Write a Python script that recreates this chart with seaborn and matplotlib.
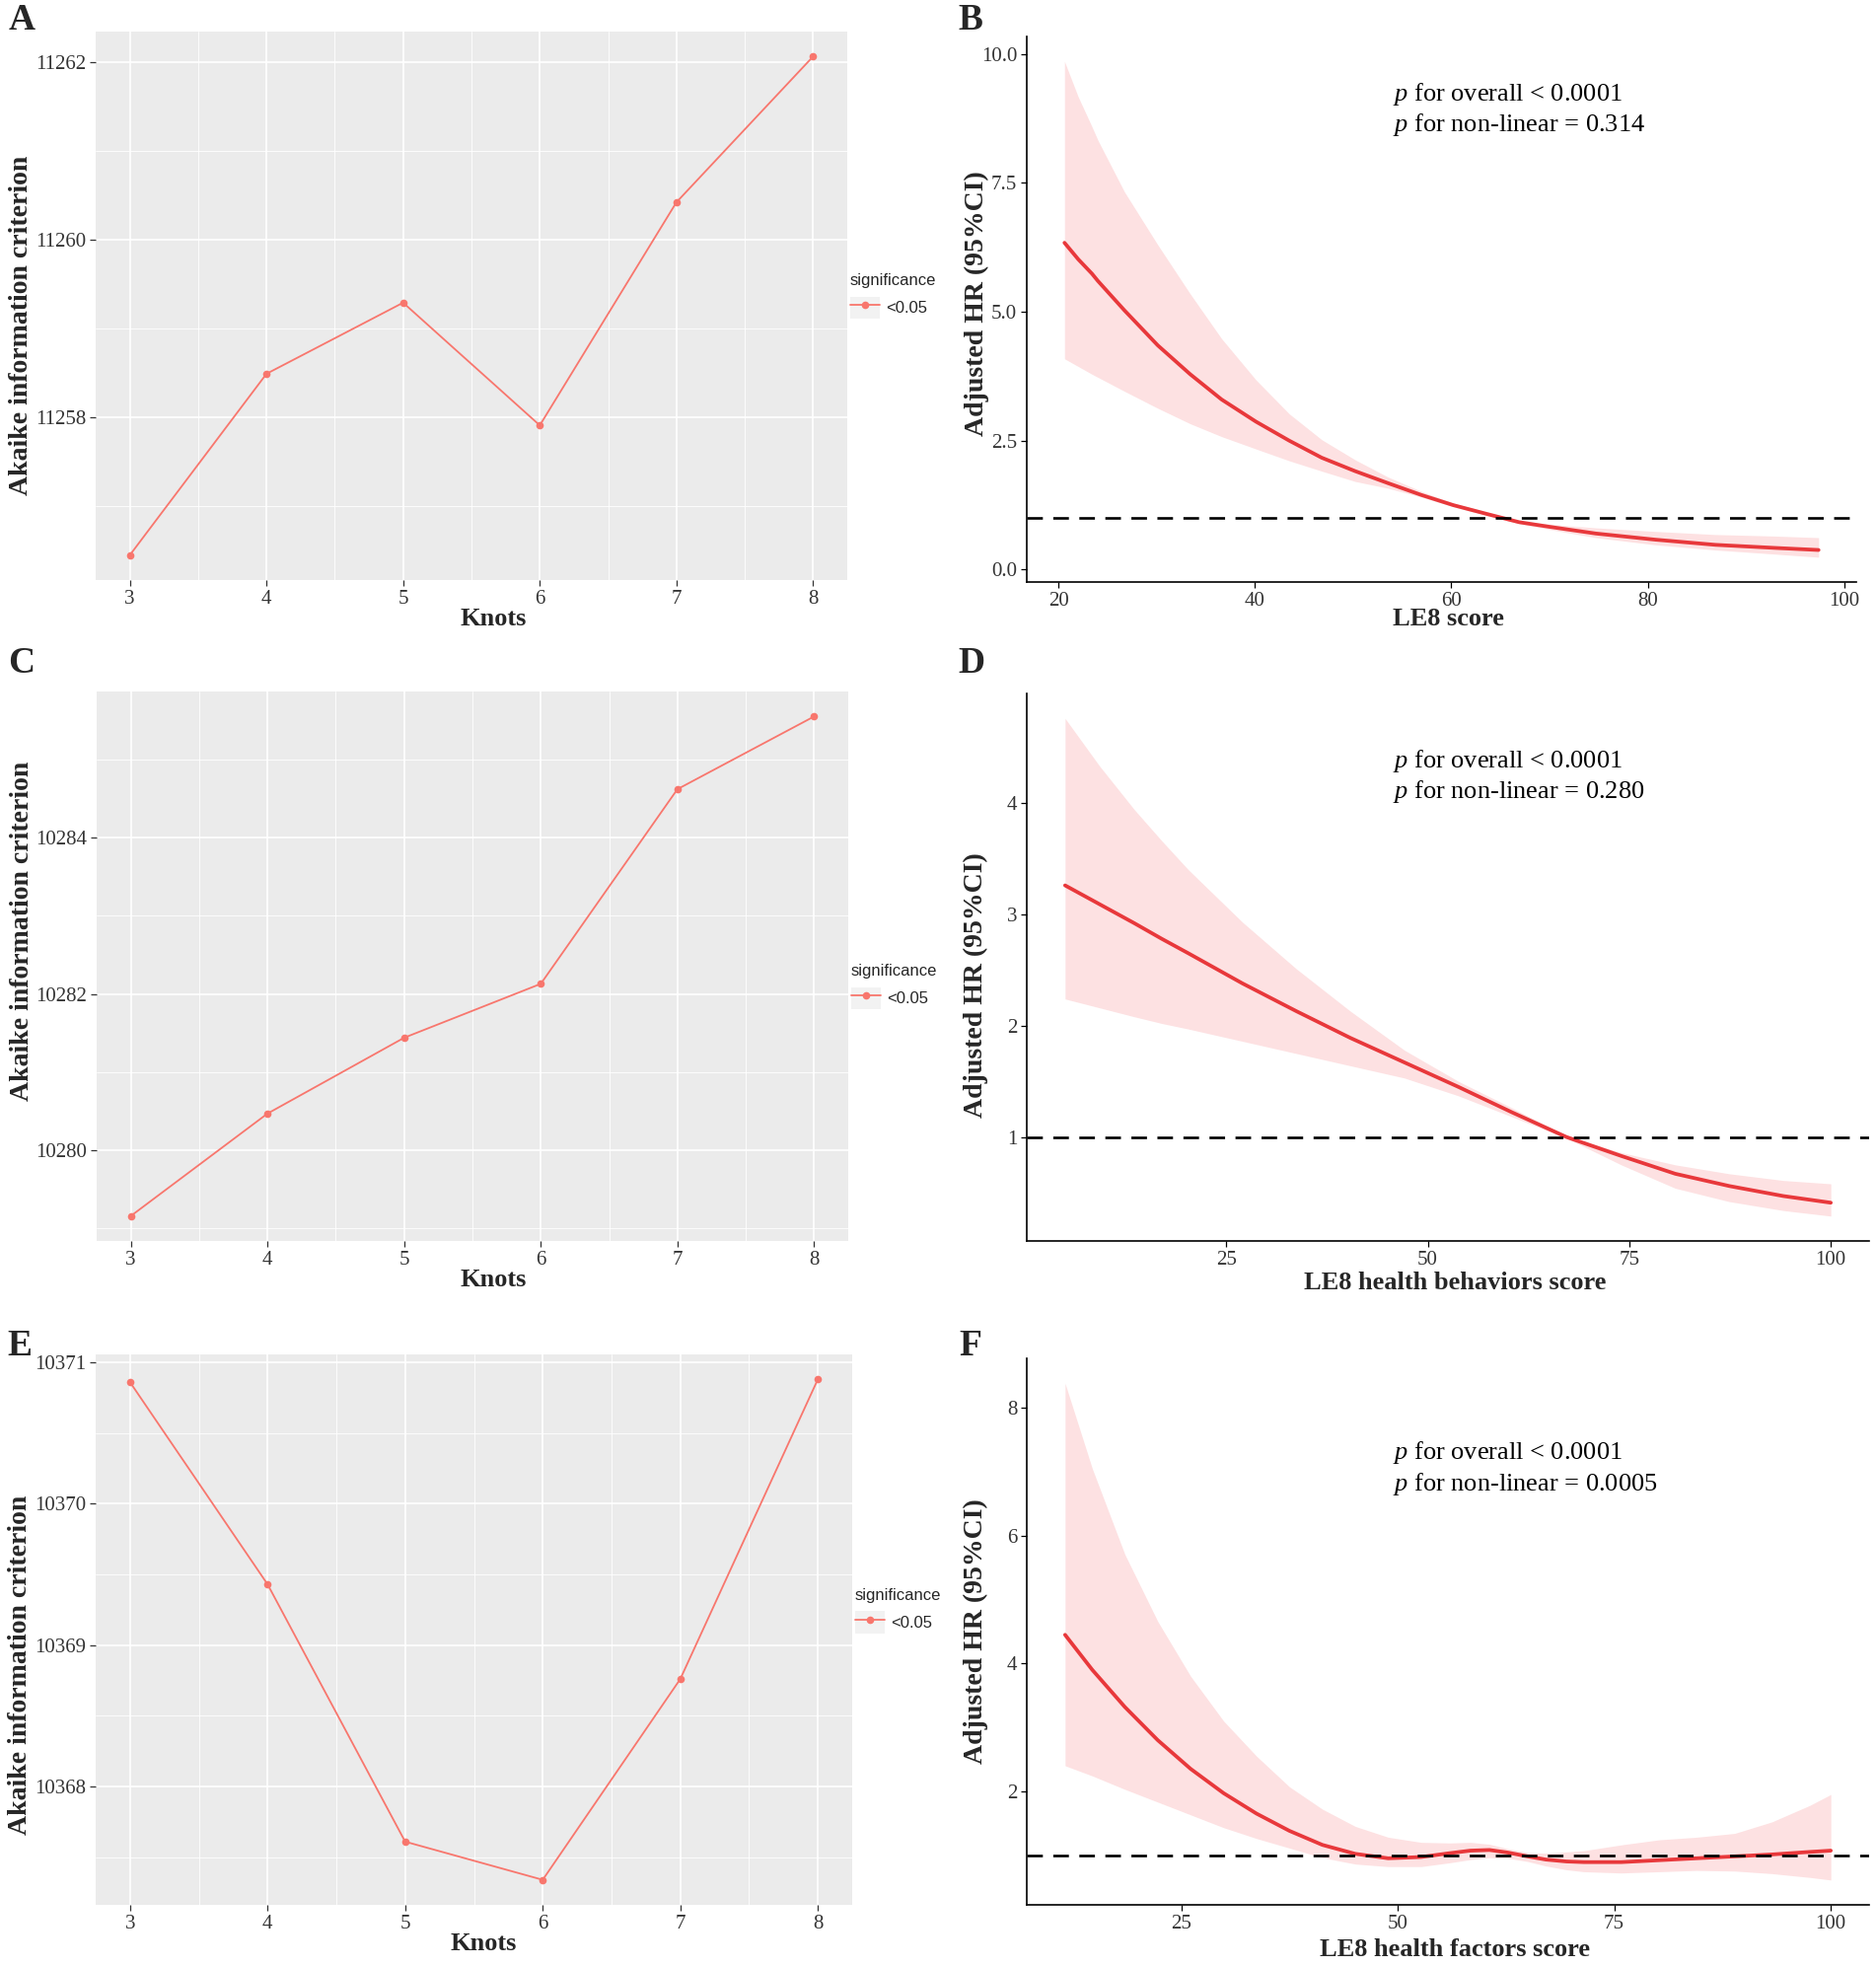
import numpy as np
import pandas as pd
import matplotlib
matplotlib.use("Agg")
import matplotlib.pyplot as plt
import seaborn as sns
from matplotlib.lines import Line2D
from matplotlib.patches import Patch
from matplotlib.legend_handler import HandlerTuple

# ── AIC by number of knots (left column) ─────────────────────────────────
KNOTS = [3, 4, 5, 6, 7, 8]
AIC_A = [11256.45, 11258.49, 11259.29, 11257.91, 11260.42, 11262.06]
AIC_C = [10279.16, 10280.47, 10281.44, 10282.13, 10284.62, 10285.55]
AIC_E = [10370.86, 10369.43, 10367.61, 10367.34, 10368.76, 10370.88]

# ── RCS curves (right column): x, HR, lower CI, upper CI ─────────────────
B_X  = [20.6, 22.0, 23.4, 24.0, 26.7, 30.1, 33.4, 36.6, 40.1, 43.5, 46.8, 50.2,
        53.5, 56.9, 60.2, 63.6, 66.9, 70.0, 74.7, 80.8, 86.9, 93.0, 97.4]
B_HR = [6.34, 6.02, 5.74, 5.60, 5.03, 4.35, 3.79, 3.30, 2.87, 2.50, 2.17, 1.91,
        1.68, 1.45, 1.25, 1.08, 0.92, 0.83, 0.70, 0.58, 0.48, 0.42, 0.38]
B_LO = [4.09, 3.94, 3.79, 3.73, 3.46, 3.13, 2.83, 2.58, 2.34, 2.11, 1.91, 1.71,
        1.58, 1.41, 1.22, 1.05, 0.89, 0.78, 0.62, 0.48, 0.38, 0.30, 0.24]
B_HI = [9.86, 9.17, 8.59, 8.33, 7.33, 6.30, 5.35, 4.48, 3.68, 3.02, 2.52, 2.13,
        1.80, 1.52, 1.29, 1.12, 0.95, 0.88, 0.81, 0.74, 0.68, 0.65, 0.62]

D_X  = [5.0, 9.3, 13.6, 17.0, 20.3, 27.0, 33.7, 40.4, 47.1, 53.8, 60.5, 67.2,
        74.0, 80.7, 87.4, 94.1, 100.0]
D_HR = [3.26, 3.09, 2.92, 2.78, 2.65, 2.38, 2.13, 1.89, 1.67, 1.45, 1.22, 1.00,
        0.83, 0.67, 0.56, 0.47, 0.41]
D_LO = [2.24, 2.16, 2.08, 2.02, 1.97, 1.86, 1.75, 1.64, 1.53, 1.37, 1.18, 0.99,
        0.75, 0.54, 0.42, 0.34, 0.29]
D_HI = [4.76, 4.33, 3.94, 3.66, 3.40, 2.93, 2.51, 2.13, 1.78, 1.50, 1.26, 1.01,
        0.86, 0.75, 0.67, 0.61, 0.58]

F_X  = [11.6, 14.75, 18.5, 22.3, 26.1, 29.9, 33.7, 37.5, 41.3, 45.1, 48.9, 52.7,
        56.0, 58.4, 60.6, 62.7, 65.0, 67.1, 69.5, 71.5, 75.8, 80.2, 84.5, 88.9,
        93.2, 97.6, 100.0]
F_HR = [4.45, 3.90, 3.32, 2.80, 2.35, 1.97, 1.65, 1.38, 1.16, 1.02, 0.95, 0.97,
        1.03, 1.07, 1.08, 1.04, 0.98, 0.93, 0.90, 0.89, 0.89, 0.92, 0.95, 0.98,
        1.01, 1.05, 1.07]
F_LO = [2.40, 2.24, 2.03, 1.83, 1.63, 1.43, 1.26, 1.11, 0.96, 0.86, 0.82, 0.82,
        0.88, 0.93, 0.96, 0.95, 0.90, 0.83, 0.77, 0.74, 0.72, 0.74, 0.76, 0.75,
        0.71, 0.65, 0.61]
F_HI = [8.39, 7.05, 5.71, 4.66, 3.80, 3.10, 2.55, 2.07, 1.72, 1.45, 1.28, 1.20,
        1.19, 1.20, 1.17, 1.10, 1.04, 1.03, 1.05, 1.07, 1.16, 1.24, 1.28, 1.34,
        1.52, 1.78, 1.95]

P_TEXT = {
    "B": ["$p$ for overall < 0.0001", "$p$ for non-linear = 0.314"],
    "D": ["$p$ for overall < 0.0001", "$p$ for non-linear = 0.280"],
    "F": ["$p$ for overall < 0.0001", "$p$ for non-linear = 0.0005"],
}

AIC_COLOR = "#F8766D"
CURVE     = "#E8383B"
BAND      = "#FDE1E2"
TICK_TXT  = "#333333"

sns.set_theme(style="white")
plt.rcParams["font.family"] = ["Liberation Serif", "DejaVu Serif"]
plt.rcParams["mathtext.fontset"] = "custom"
plt.rcParams["mathtext.it"] = "Liberation Serif:italic"
plt.rcParams["mathtext.rm"] = "Liberation Serif"

W, H = 1902, 1993
fig = plt.figure(figsize=(W / 100, H / 100), dpi=100)


def px_axes(x0, y0, x1, y1):
    return fig.add_axes([x0 / W, 1 - y1 / H, (x1 - x0) / W, (y1 - y0) / H])


def expand(vmin, vmax, f=0.05):
    pad = (vmax - vmin) * f
    return vmin - pad, vmax + pad


def aic_panel(box, values, yticks, ylab_y, xlab_x, leg_top):
    ax = px_axes(*box)
    df = pd.DataFrame({"Knots": KNOTS, "AIC": values, "significance": "<0.05"})
    sns.lineplot(data=df, x="Knots", y="AIC", hue="significance",
                 palette=[AIC_COLOR], marker="o", markersize=5.5,
                 markeredgewidth=0, linewidth=1.3, ax=ax, legend=False)
    ax.set_facecolor("#EBEBEB")
    ax.set_xticks(KNOTS)
    ax.set_xticks([k + 0.5 for k in KNOTS[:-1]], minor=True)
    step = yticks[1] - yticks[0]
    ax.set_yticks(yticks)
    ax.set_yticklabels([f"{t:d}" for t in yticks])
    ax.set_yticks([yticks[0] - step / 2] + [t + step / 2 for t in yticks], minor=True)
    ax.set_xlim(2.75, 8.25)
    ax.set_ylim(*expand(min(values), max(values)))
    ax.grid(which="major", color="white", lw=1.2)
    ax.grid(which="minor", color="white", lw=0.6)
    for s in ax.spines.values():
        s.set_visible(False)
    ax.tick_params(which="major", length=4, width=0.9, color="#333333",
                   labelsize=15, labelcolor=TICK_TXT, pad=3,
                   bottom=True, left=True)
    ax.tick_params(which="minor", length=0)
    ax.set_xlabel("Knots", fontsize=19, fontweight="bold", va="center")
    ax.xaxis.set_label_coords(xlab_x, -0.071)
    ax.set_ylabel("Akaike information criterion", fontsize=20,
                  fontweight="bold", va="center")
    ax.yaxis.set_label_coords(-0.0997, ylab_y)

    handle = (Patch(facecolor="#F2F2F2", edgecolor="none"),
              Line2D([], [], color=AIC_COLOR, lw=1.3, marker="o",
                     markersize=5.5, markeredgewidth=0))
    leg = ax.legend([handle], ["<0.05"], title="significance",
                    handler_map={tuple: HandlerTuple(ndivide=1, pad=0)},
                    loc="upper left", bbox_to_anchor=(1.004, leg_top),
                    frameon=False, borderpad=0, borderaxespad=0,
                    handlelength=1.8, handleheight=1.7, handletextpad=0.35,
                    prop={"family": "Liberation Sans", "size": 12})
    leg.get_title().set_fontfamily("Liberation Sans")
    leg.get_title().set_fontsize(12)
    leg._legend_box.align = "left"
    return ax


def hr_panel(box, x, hr, lo, hi, xticks, yticks, ylabels, xlabel, key,
             text_xy, ylab_y, xlab_y):
    ax = px_axes(*box)
    ax.fill_between(x, lo, hi, color=BAND, lw=0)
    sns.lineplot(x=x, y=hr, color=CURVE, linewidth=2.7, ax=ax)
    ax.axhline(1, color="black", lw=1.9, linestyle=(0, (6, 4)))
    ax.set_xticks(xticks)
    ax.set_yticks(yticks)
    ax.set_yticklabels(ylabels)
    ax.set_xlim(*expand(min(x), max(x)))
    ax.set_ylim(*expand(min(lo), max(hi)))
    sns.despine(ax=ax)
    for s in ("left", "bottom"):
        ax.spines[s].set_color("black")
        ax.spines[s].set_linewidth(1.2)
    ax.tick_params(length=4, width=0.9, color="black", labelsize=15,
                   labelcolor=TICK_TXT, pad=3, bottom=True, left=True)
    ax.set_xlabel(xlabel, fontsize=19, fontweight="bold", va="center")
    ax.xaxis.set_label_coords(0.508, xlab_y)
    ax.set_ylabel("Adjusted HR (95%CI)", fontsize=20, fontweight="bold",
                  va="center")
    ax.yaxis.set_label_coords(-0.0603, ylab_y)
    tx, ty1, ty2 = text_xy
    ax.text(tx, ty1, P_TEXT[key][0], transform=ax.transAxes, fontsize=19,
            ha="left", va="center", color="black")
    ax.text(tx, ty2, P_TEXT[key][1], transform=ax.transAxes, fontsize=19,
            ha="left", va="center", color="black")
    return ax


aic_panel((97, 32, 859, 588), AIC_A, [11258, 11260, 11262], 0.464, 0.529, 0.559)
aic_panel((98, 701, 860, 1258), AIC_C, [10280, 10282, 10284], 0.564, 0.528, 0.504)
aic_panel((97, 1373, 864, 1931), AIC_E, [10368, 10369, 10370, 10371], 0.435, 0.512, 0.575)

hr_panel((1041, 37, 1882, 590), B_X, B_HR, B_LO, B_HI,
         [20, 40, 60, 80, 100], [0, 2.5, 5, 7.5, 10],
         ["0.0", "2.5", "5.0", "7.5", "10.0"], "LE8 score", "B",
         (0.441, 0.895, 0.839), 0.51, -0.067)
hr_panel((1041, 703, 1895, 1258), D_X, D_HR, D_LO, D_HI,
         [25, 50, 75, 100], [1, 2, 3, 4], ["1", "2", "3", "4"],
         "LE8 health behaviors score", "D",
         (0.435, 0.877, 0.820), 0.468, -0.076)
hr_panel((1041, 1377, 1895, 1931), F_X, F_HR, F_LO, F_HI,
         [25, 50, 75, 100], [2, 4, 6, 8], ["2", "4", "6", "8"],
         "LE8 health factors score", "F",
         (0.435, 0.827, 0.769), 0.50, -0.083)

for letter, (lx, ly) in {"A": (22, 21), "B": (984, 21), "C": (22, 672),
                         "D": (985, 672), "E": (20, 1364), "F": (984, 1364)}.items():
    fig.text(lx / W, 1 - ly / H, letter, fontsize=27, fontweight="bold",
             ha="center", va="center")

fig.savefig("out.png", dpi=100)
